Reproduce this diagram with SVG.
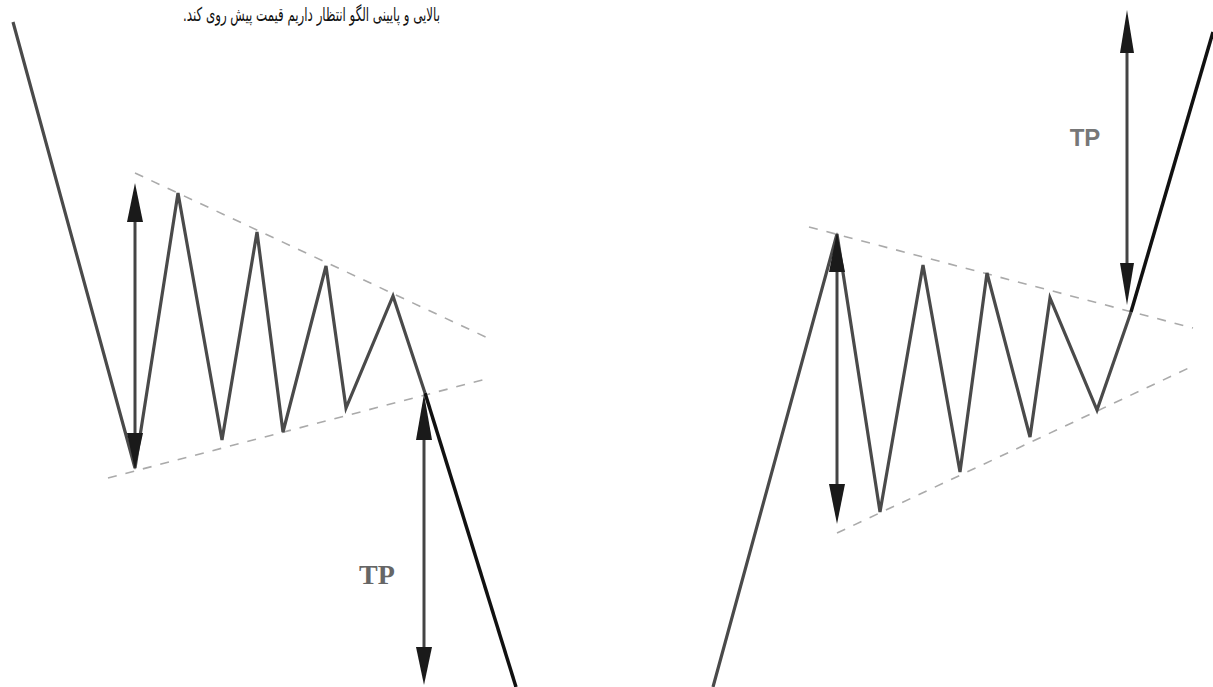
<svg xmlns="http://www.w3.org/2000/svg" width="1213" height="687" viewBox="0 0 1213 687">
<style>
.zig{fill:none;stroke:#4a4a4a;stroke-width:3.2;stroke-linejoin:miter}
.brk{fill:none;stroke:#111;stroke-width:3.5}
.dash{fill:none;stroke:#aaa;stroke-width:1.6;stroke-dasharray:9 9}
.shaft{stroke:#444;stroke-width:3}
.head{fill:#1a1a1a}
.tps{font-family:"Liberation Serif",serif;font-weight:bold;font-size:28px;fill:#666}
.tpa{font-family:"Liberation Sans",sans-serif;font-weight:bold;font-size:24px;fill:#777}
.cap{font-family:"DejaVu Sans","Noto Sans",sans-serif;font-size:19px;fill:#111}
</style>
<rect width="1213" height="687" fill="#fff"/>
<text class="cap" x="440" y="21" direction="rtl" text-anchor="start" textLength="257" lengthAdjust="spacingAndGlyphs">بالایی و پایینی الگو انتظار داریم قیمت پیش روی کند.</text>
<g id="left-pattern">
<line class="dash" x1="135" y1="173" x2="490" y2="339"/>
<line class="dash" x1="108" y1="478" x2="490" y2="378"/>
<polyline class="zig" points="13,22 135,468 178,193 222,440 257,232 283,432 326,266 346,408 393,296 425,393"/>
<polyline class="brk" points="425,393 516,687"/>
</g>
<g id="left-height-arrow">
<line class="shaft" x1="135" y1="215" x2="135" y2="440"/>
<polygon class="head" points="135,183 127,222 143,222"/>
<polygon class="head" points="135,470 127,433 143,433"/>
</g>
<g id="left-tp-arrow">
<line class="shaft" x1="424" y1="430" x2="424" y2="655"/>
<polygon class="head" points="424,394 416,440 432,440"/>
<polygon class="head" points="424,685 416,647 432,647"/>
<text class="tps" x="377" y="584" text-anchor="middle">TP</text>
</g>
<g id="right-pattern">
<line class="dash" x1="809" y1="227" x2="1193" y2="328"/>
<line class="dash" x1="837" y1="533" x2="1193" y2="366"/>
<polyline class="zig" points="713,687 837,234 880,512 923,265 960,472 987,273 1030,437 1050,298 1097,410 1131,312"/>
<polyline class="brk" points="1131,312 1213,32"/>
</g>
<g id="right-height-arrow">
<line class="shaft" x1="837" y1="265" x2="837" y2="490"/>
<polygon class="head" points="837,232 829,272 845,272"/>
<polygon class="head" points="837,524 829,484 845,484"/>
</g>
<g id="right-tp-arrow">
<line class="shaft" x1="1127" y1="45" x2="1127" y2="270"/>
<polygon class="head" points="1127,10 1120,53 1134,53"/>
<polygon class="head" points="1127,305 1120,263 1134,263"/>
<text class="tpa" x="1085" y="146" text-anchor="middle">TP</text>
</g>
</svg>
